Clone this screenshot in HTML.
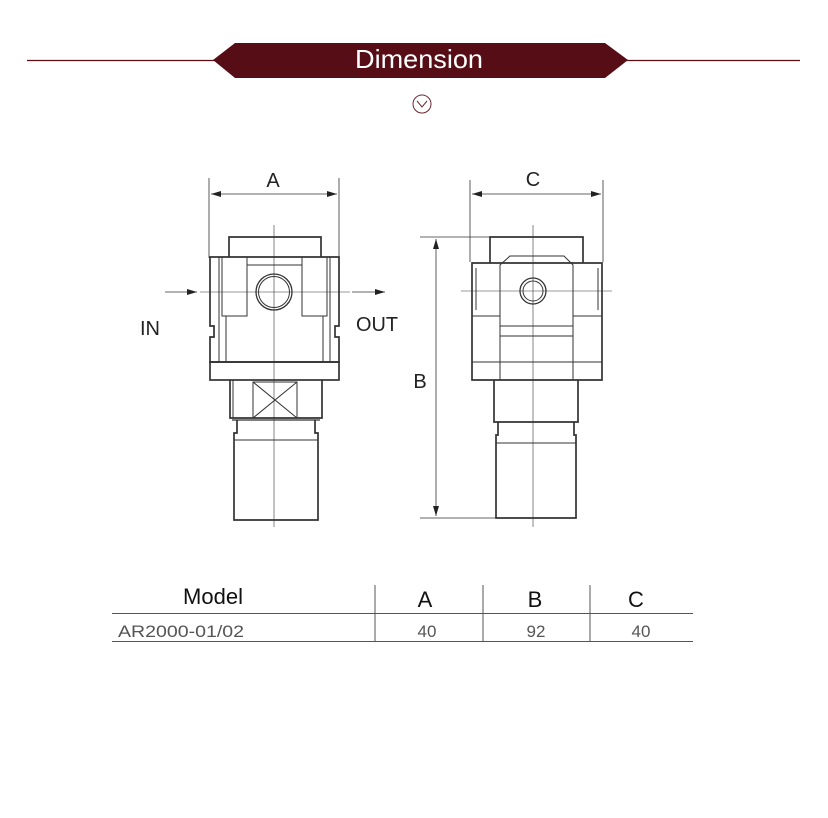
<!DOCTYPE html>
<html><head><meta charset="utf-8"><style>
html,body{margin:0;padding:0;background:#fff;}
svg{display:block;}
text{font-family:"Liberation Sans",sans-serif;}
</style></head><body>
<svg width="828" height="818" viewBox="0 0 828 818" xmlns="http://www.w3.org/2000/svg">
<defs>
<marker id="ar" markerWidth="10" markerHeight="6" refX="10" refY="3" orient="auto-start-reverse" markerUnits="userSpaceOnUse"><path d="M0,0 L10,3 L0,6 Z" fill="#222"/></marker>
</defs>
<line x1="27" y1="60.5" x2="800" y2="60.5" stroke="#5a0f17" stroke-width="1.2"/>
<polygon points="213,60 235,43 605,43 628,60 605,78 235,78" fill="#560d15"/>
<text x="419" y="68" font-size="26" fill="#fff" text-anchor="middle" textLength="128" lengthAdjust="spacingAndGlyphs">Dimension</text>
<circle cx="422" cy="104" r="9" fill="none" stroke="#6b2a30" stroke-width="1"/>
<polyline points="417,101 422,107 427,101" fill="none" stroke="#6b2a30" stroke-width="1"/>

<g fill="none" stroke="#333" stroke-width="1">
<line x1="209" y1="178" x2="209" y2="258" stroke-width="0.8"/>
<line x1="339" y1="178" x2="339" y2="258" stroke-width="0.8"/>
<line x1="211" y1="194" x2="337" y2="194" stroke-width="0.8" marker-start="url(#ar)" marker-end="url(#ar)"/>
<line x1="274" y1="225" x2="274" y2="527" stroke-width="0.6"/>
<line x1="165" y1="292" x2="197" y2="292" stroke-width="0.8" marker-end="url(#ar)"/>
<line x1="200" y1="292" x2="350" y2="292" stroke-width="0.6"/>
<line x1="352" y1="292" x2="385" y2="292" stroke-width="0.8" marker-end="url(#ar)"/>
<path d="M229,257 V237 H321 V257" stroke-width="1.7"/>
<path d="M210,257 H339 V326 H335 V337 H339 V362 H210 V337 H214 V326 H210 Z" stroke-width="1.7"/>
<line x1="219" y1="257" x2="219" y2="362"/>
<line x1="330" y1="257" x2="330" y2="362"/>
<rect x="222" y="257" width="25" height="59"/>
<rect x="302" y="257" width="25" height="59"/>
<line x1="247" y1="265" x2="302" y2="265"/>
<line x1="226" y1="316" x2="226" y2="362"/>
<line x1="323" y1="316" x2="323" y2="362"/>
<circle cx="274" cy="292" r="18" stroke-width="1.3"/>
<circle cx="274" cy="292" r="15.5"/>
<rect x="210" y="362" width="129" height="18" stroke-width="1.7"/>
<path d="M230,380 V418 H322 V380" stroke-width="1.7"/>
<line x1="233" y1="380" x2="233" y2="418"/>
<rect x="253" y="382" width="44" height="36"/>
<line x1="253" y1="382" x2="297" y2="418"/>
<line x1="297" y1="382" x2="253" y2="418"/>
<line x1="232" y1="420" x2="320" y2="420" stroke-width="1.3"/>
<path d="M237,420 V433 H234 V520 H318 V433 H315 V420" stroke-width="1.7"/>
<line x1="234" y1="440" x2="318" y2="440"/>

<line x1="470" y1="180" x2="470" y2="262" stroke-width="0.8"/>
<line x1="603" y1="180" x2="603" y2="262" stroke-width="0.8"/>
<line x1="472" y1="194" x2="601" y2="194" stroke-width="0.8" marker-start="url(#ar)" marker-end="url(#ar)"/>
<line x1="533" y1="225" x2="533" y2="527" stroke-width="0.6"/>
<line x1="461" y1="291" x2="612" y2="291" stroke-width="0.6"/>
<path d="M490,263 V237 H583 V263" stroke-width="1.7"/>
<path d="M472,263 H602 V380 H472 Z" stroke-width="1.7"/>
<path d="M476,268 V310 M598,268 V310"/>
<path d="M500,380 V265 L510,256 H564 L573,265 V380"/>
<line x1="472" y1="316" x2="500" y2="316"/>
<line x1="573" y1="316" x2="602" y2="316"/>
<line x1="500" y1="326" x2="573" y2="326"/>
<line x1="500" y1="336" x2="573" y2="336"/>
<line x1="472" y1="362" x2="602" y2="362"/>
<circle cx="533" cy="291" r="13" stroke-width="1.3"/>
<circle cx="533" cy="291" r="10"/>
<path d="M494,380 V422 H578 V380" stroke-width="1.7"/>
<path d="M498,422 V435 H496 V518 H576 V435 H574 V422" stroke-width="1.7"/>
<line x1="496" y1="443" x2="576" y2="443"/>
<line x1="420" y1="237" x2="490" y2="237" stroke-width="0.8"/>
<line x1="420" y1="518" x2="496" y2="518" stroke-width="0.8"/>
<line x1="436" y1="239" x2="436" y2="516" stroke-width="0.8" marker-start="url(#ar)" marker-end="url(#ar)"/>
</g>
<g font-size="20" fill="#222" text-anchor="middle">
<text x="273" y="187">A</text>
<text x="533" y="186">C</text>
<text x="420" y="388">B</text>
<text x="150" y="335" textLength="20" lengthAdjust="spacingAndGlyphs">IN</text>
<text x="377" y="331" textLength="42" lengthAdjust="spacingAndGlyphs">OUT</text>
</g>

<g stroke="#555" stroke-width="1">
<line x1="112" y1="613.5" x2="693" y2="613.5"/>
<line x1="112" y1="641.5" x2="693" y2="641.5"/>
<line x1="375" y1="585" x2="375" y2="641"/>
<line x1="483" y1="585" x2="483" y2="641"/>
<line x1="590" y1="585" x2="590" y2="641"/>
</g>
<g font-size="22" fill="#111" text-anchor="middle">
<text x="213" y="604">Model</text>
<text x="425" y="607">A</text>
<text x="535" y="607">B</text>
<text x="636" y="607">C</text>
</g>
<g font-size="17" fill="#555" text-anchor="middle">
<text x="118" y="637" text-anchor="start" textLength="126" lengthAdjust="spacingAndGlyphs">AR2000-01/02</text>
<text x="427" y="637">40</text>
<text x="536" y="637">92</text>
<text x="641" y="637">40</text>
</g>
</svg>
</body></html>
